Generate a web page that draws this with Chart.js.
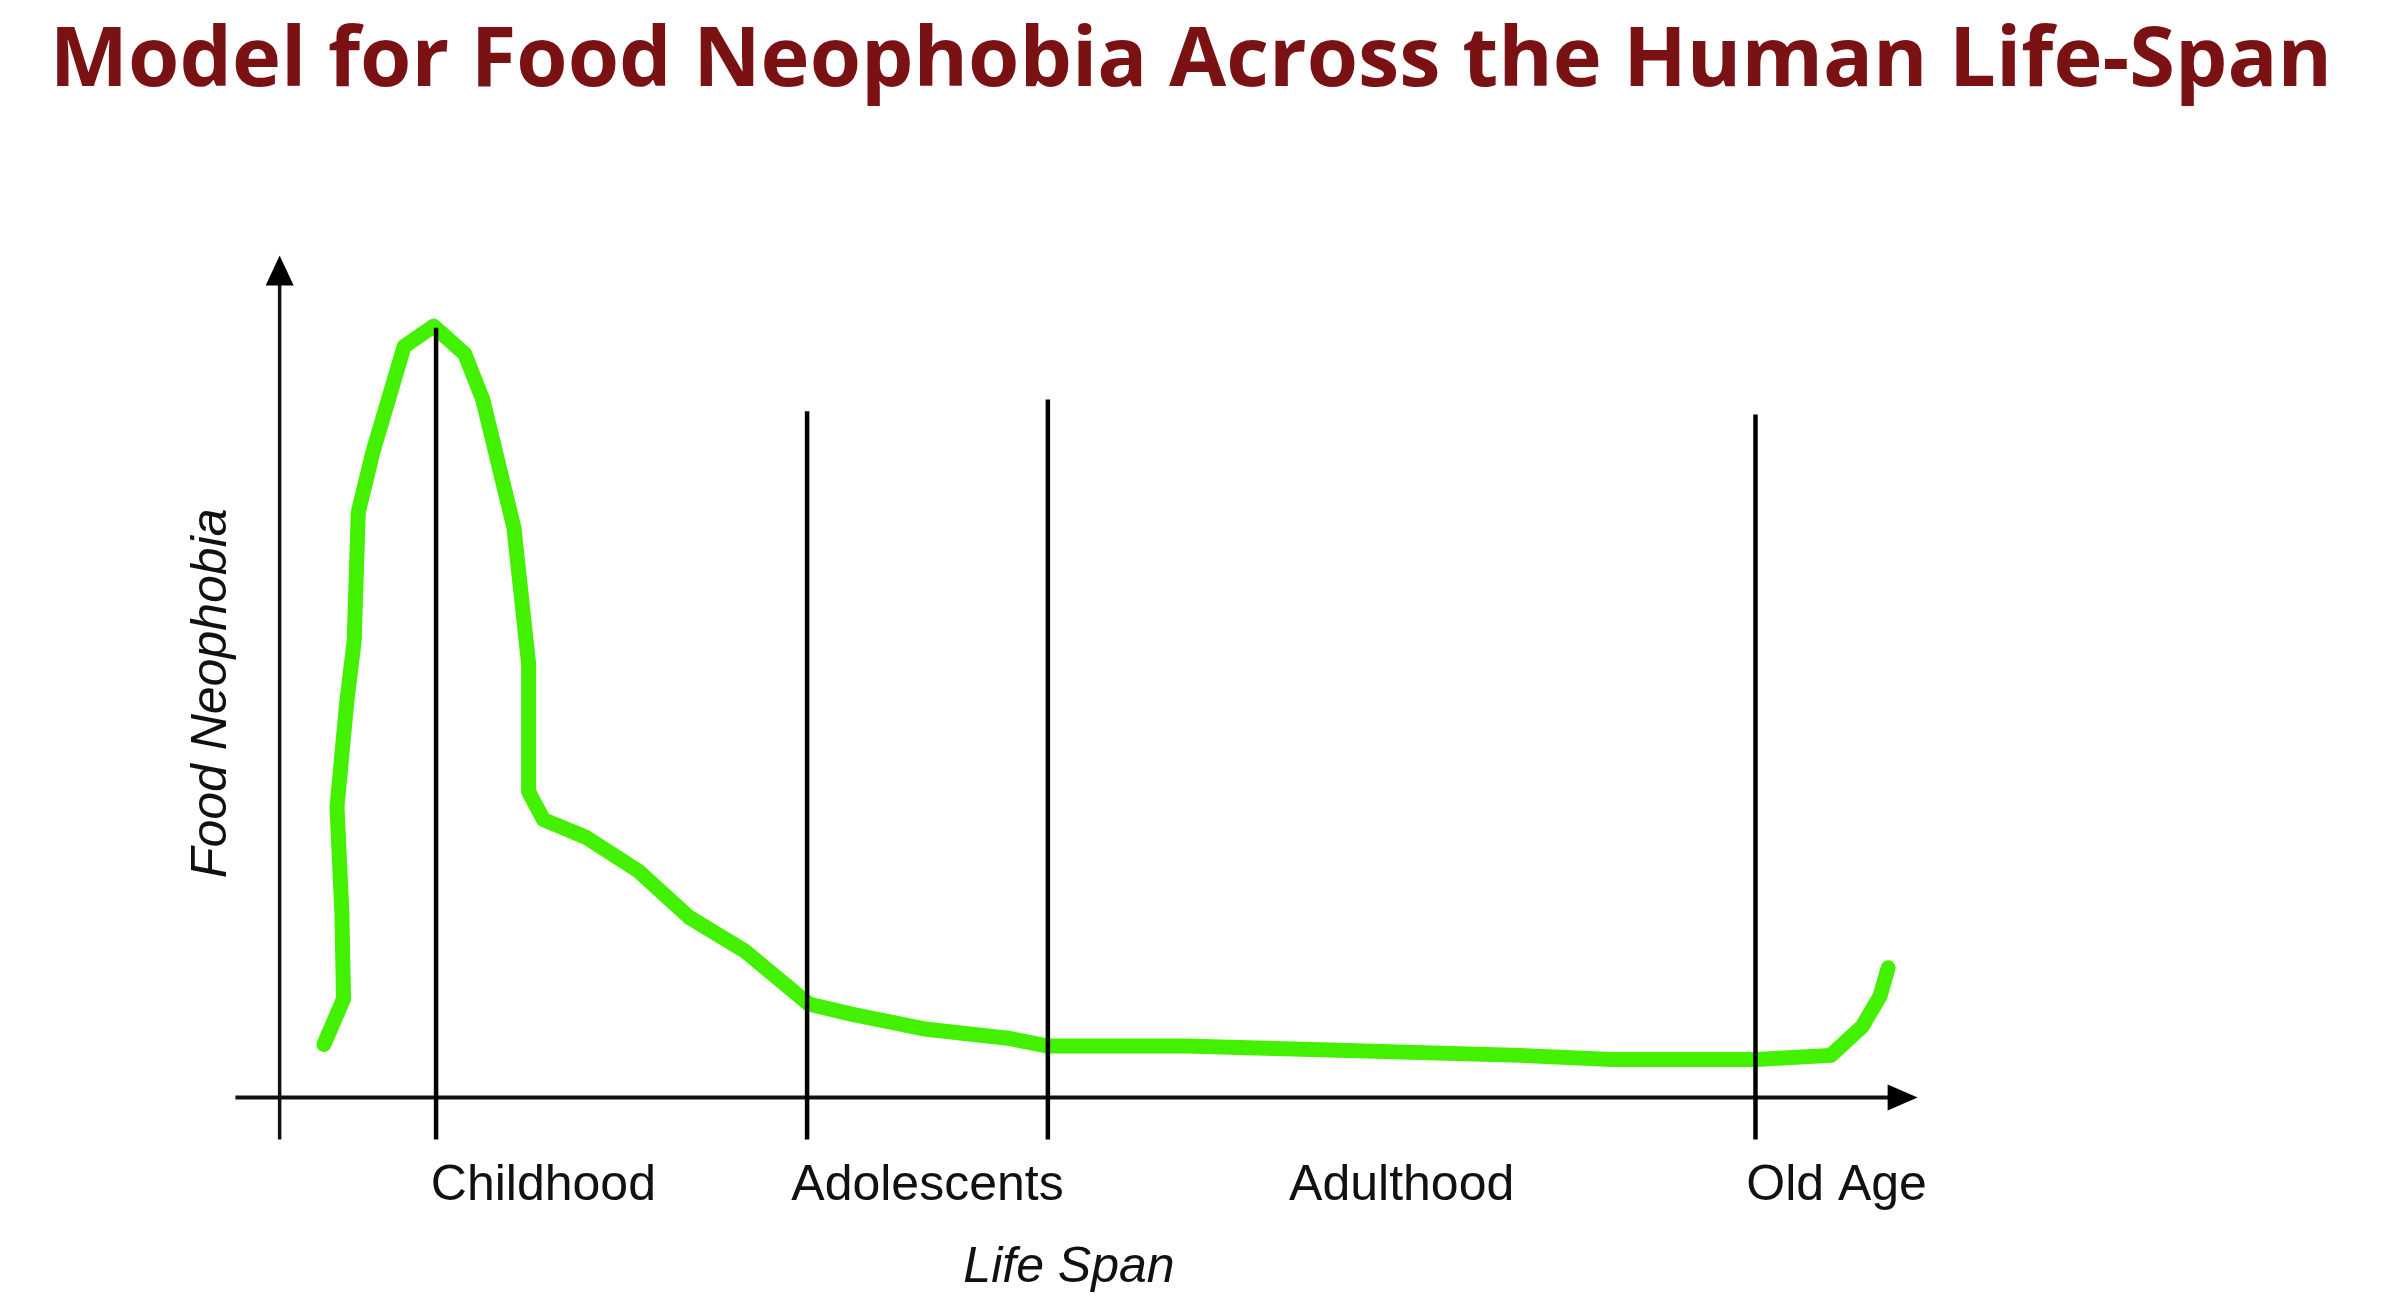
<!DOCTYPE html>
<html>
<head>
<meta charset="utf-8">
<script src="https://cdn.jsdelivr.net/npm/chart.js@4.4.1/dist/chart.umd.min.js"></script>
<style>
  html, body { margin: 0; padding: 0; background: #ffffff; }
  canvas { display: block; }
</style>
</head>
<body>
<canvas id="chart" width="2382" height="1314"></canvas>
<script>
// life span runs 0..100 from the vertical axis to the arrow tip
const stageNames = ["Childhood", "Adolescents", "Adulthood", "Old Age"];
const stageEdges = [0, 32.2, 46.9, 90.1, 100];

// black divider lines (x position and how high they reach)
const dividerX = [9.55, 32.2, 46.9, 90.1];
const dividerTop = [91.4, 81.5, 82.9, 81.1];

// the green neophobia curve
const lifeSpan = [2.7, 3.9, 3.8, 3.5, 4.1, 4.55, 4.8, 5.7, 7.6, 9.4, 11.3, 12.4, 14.3,
  15.2, 15.2, 16.1, 18.7, 21.9, 25.0, 28.4, 32.3, 34.9, 39.5, 44.6, 46.9, 55.3,
  64.6, 75.7, 81.3, 90.1, 94.7, 96.6, 97.7, 98.2];
const neophobia = [6.3, 11.7, 21.9, 34.5, 47.0, 54.2, 69.5, 76.7, 89.2, 91.6, 88.3, 82.9, 67.7,
  51.5, 36.3, 33.0, 30.9, 26.9, 21.4, 17.4, 11.1, 9.9, 8.1, 7.0, 6.1, 6.1,
  5.6, 5.0, 4.5, 4.5, 5.0, 8.4, 12.0, 15.4];

const axisXStart = -2.7;
const axisXEnd = 100;
const axisYStart = -5;
const axisYEnd = 100;

let labelCenters = [];
for (let i = 0; i < stageNames.length; i++) {
  labelCenters.push((stageEdges[i] + stageEdges[i + 1]) / 2);
}

let datasets = [];

datasets.push({
  label: "Food Neophobia",
  data: lifeSpan.map((x, i) => ({ x: x, y: neophobia[i] })),
  borderColor: "#42f000",
  borderWidth: 15,
  borderJoinStyle: "round",
  borderCapStyle: "round",
  pointRadius: 0,
  tension: 0,
  order: 5,
});

dividerX.forEach((x, i) => {
  datasets.push({
    label: "divider " + i,
    data: [{ x: x, y: axisYStart }, { x: x, y: dividerTop[i] }],
    borderColor: "#000000",
    borderWidth: 4.5,
    pointRadius: 0,
    order: 1,
  });
});

// the two axes
datasets.push({
  label: "x axis",
  data: [{ x: axisXStart, y: 0 }, { x: axisXEnd - 1.5, y: 0 }],
  borderColor: "#111111",
  borderWidth: 4,
  pointRadius: 0,
  order: 1,
});
datasets.push({
  label: "y axis",
  data: [{ x: 0, y: axisYStart }, { x: 0, y: axisYEnd - 2 }],
  borderColor: "#111111",
  borderWidth: 3.5,
  pointRadius: 0,
  order: 1,
});

const arrowHeads = {
  id: "arrowHeads",
  afterDatasetsDraw(chart) {
    const { ctx, scales } = chart;
    const x = scales.x;
    const y = scales.y;

    ctx.save();
    ctx.fillStyle = "#000000";

    // right arrow on the life span axis
    let tipX = x.getPixelForValue(axisXEnd);
    let baseY = y.getPixelForValue(0);
    ctx.beginPath();
    ctx.moveTo(tipX, baseY);
    ctx.lineTo(tipX - 30, baseY - 13);
    ctx.lineTo(tipX - 30, baseY + 13);
    ctx.closePath();
    ctx.fill();

    // up arrow on the neophobia axis
    let baseX = x.getPixelForValue(0);
    let tipY = y.getPixelForValue(axisYEnd);
    ctx.beginPath();
    ctx.moveTo(baseX, tipY);
    ctx.lineTo(baseX - 14, tipY + 30);
    ctx.lineTo(baseX + 14, tipY + 30);
    ctx.closePath();
    ctx.fill();

    ctx.restore();
  },
};

const canvas = document.querySelector("#chart");

new Chart(canvas, {
  type: "line",
  data: { datasets: datasets },
  plugins: [arrowHeads],
  options: {
    responsive: false,
    animation: false,
    devicePixelRatio: 1,
    layout: { padding: 0 },
    datasets: { line: { clip: false } },
    plugins: {
      legend: { display: false },
      tooltip: { enabled: false },
      title: {
        display: true,
        text: "Model for Food Neophobia Across the Human Life-Span",
        color: "#7a1214",
        font: { family: "'Open Sans'", size: 83, weight: "bold", lineHeight: 1.2 },
        padding: { top: 13, bottom: 126 },
      },
    },
    scales: {
      x: {
        type: "linear",
        min: -1.81,
        max: 98.19,
        grid: { display: false },
        border: { display: false },
        afterBuildTicks: (scale) => {
          scale.ticks = labelCenters.map((v) => ({ value: v }));
        },
        ticks: {
          autoSkip: false,
          maxRotation: 0,
          padding: 0,
          color: "#111111",
          font: { family: "'Liberation Sans'", size: 50, lineHeight: 1.2 },
          callback: (value, index) => stageNames[index],
        },
        title: {
          display: true,
          text: "Life Span",
          color: "#111111",
          font: { family: "'Liberation Sans'", size: 50, style: "italic", lineHeight: 1.2 },
          padding: { top: 22, bottom: 16 },
        },
      },
      y: {
        type: "linear",
        position: "left",
        min: -6,
        max: 102,
        grid: { display: false },
        border: { display: false },
        ticks: { display: false },
        title: {
          display: true,
          text: "Food Neophobia",
          color: "#111111",
          font: { family: "'Liberation Sans'", size: 50, style: "italic", lineHeight: 1.2 },
          padding: { top: 182, bottom: 0 },
        },
      },
      // empty axis on the right, only to keep the plot narrower than the title
      spacer: {
        type: "linear",
        position: "right",
        grid: { display: false },
        border: { display: false },
        ticks: { display: false },
        title: {
          display: true,
          text: "",
          font: { size: 10, lineHeight: 1.2 },
          padding: { top: 0, bottom: 474 },
        },
      },
    },
  },
});
</script>
</body>
</html>
